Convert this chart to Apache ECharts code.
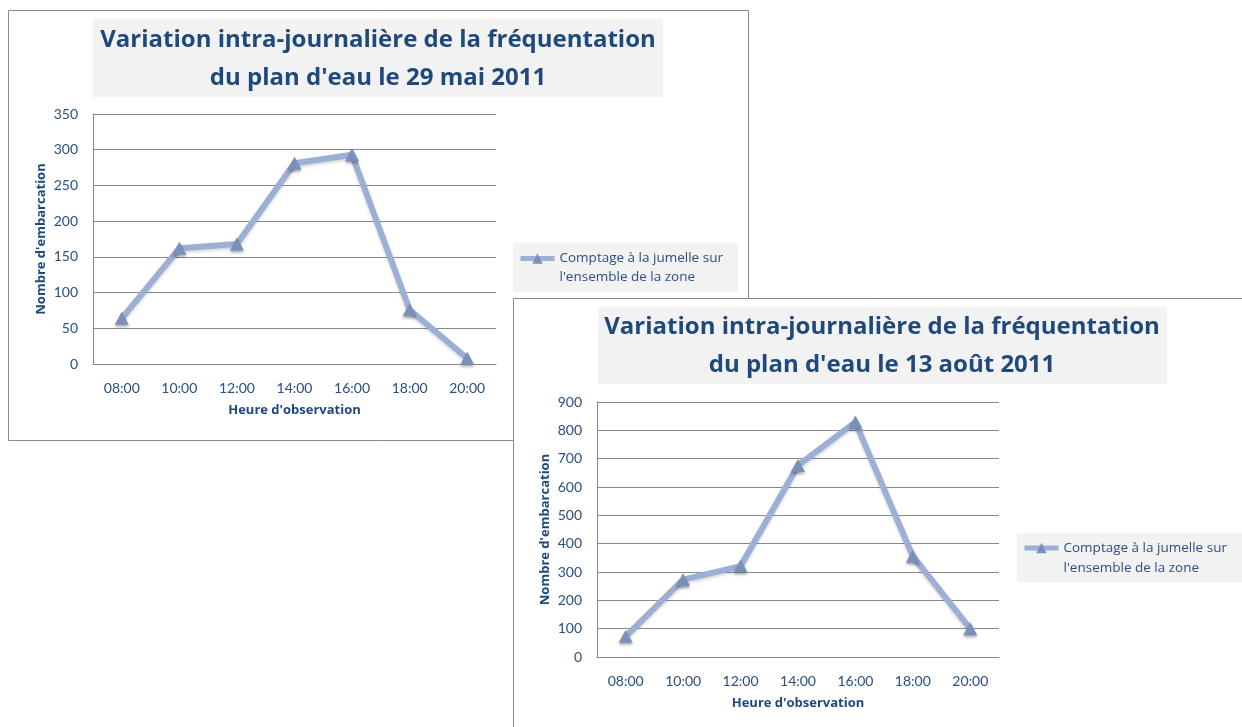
<!DOCTYPE html>
<html lang="fr">
<head>
<meta charset="utf-8">
<title>Variation intra-journalière de la fréquentation du plan d'eau</title>
<script src="https://cdn.jsdelivr.net/npm/echarts@6/dist/echarts.min.js"></script>
<style>
  html, body { margin: 0; padding: 0; background: #ffffff; }
  #chart { width: 1242px; height: 727px; }
</style>
</head>
<body>
<div id="chart"></div>
<script>
// Heures d'observation (axe des abscisses, commun aux deux graphiques)
const heures = ['08:00', '10:00', '12:00', '14:00', '16:00', '18:00', '20:00'];

// Nombre d'embarcations comptées à la jumelle
const comptage29Mai = [64, 162, 168, 281, 293, 76, 8];
const comptage13Aout = [73, 273, 321, 676, 829, 356, 100];

const nomSerie = "Comptage à la jumelle sur l'ensemble de la zone";
// ligne vide en tête : le symbole de légende se cale ainsi sur la première ligne du texte
const legendeTexte = "\nComptage à la jumelle sur\nl'ensemble de la zone";

const titre29Mai = "Variation intra-journalière de la fréquentation\ndu plan d'eau le 29 mai 2011";
const titre13Aout = "Variation intra-journalière de la fréquentation\ndu plan d'eau le 13 août 2011";

const nomAxeY = "Nombre d'embarcation";
const nomAxeX = "Heure d'observation";

// Échelles verticales
const echelle29Mai = { min: 0, max: 350, interval: 50 };
const echelle13Aout = { min: 0, max: 900, interval: 100 };

const FONT = '"Open Sans"';
const FONT_CHIFFRES = 'Lato';
const BLEU = '#1f497d';
const BLEU_TEXTE = '#2b4f82';
const GRIS = '#8a8a8a';
const FOND = '#f2f2f2';
const LIGNE = '#9cb0d5';
const MARQUEUR = '#7b8fbb';

function axeX(gridIndex) {
  return {
    type: 'category',
    gridIndex: gridIndex,
    data: heures,
    boundaryGap: true,
    axisLine: { show: true, lineStyle: { color: GRIS, width: 1 } },
    axisTick: { show: false },
    axisLabel: { color: BLEU_TEXTE, fontFamily: FONT_CHIFFRES, fontSize: 14, margin: 17 },
    name: nomAxeX,
    nameLocation: 'middle',
    nameGap: 40,
    nameTextStyle: { color: BLEU, fontFamily: FONT, fontSize: 13, fontWeight: 'bold' }
  };
}

function axeY(gridIndex, echelle) {
  return {
    type: 'value',
    gridIndex: gridIndex,
    min: echelle.min,
    max: echelle.max,
    interval: echelle.interval,
    axisLine: { show: true, lineStyle: { color: GRIS, width: 1 } },
    axisTick: { show: false },
    splitLine: { show: true, lineStyle: { color: GRIS, width: 1 } },
    axisLabel: { color: BLEU_TEXTE, fontFamily: FONT_CHIFFRES, fontSize: 14, margin: 15 },
    name: nomAxeY,
    nameLocation: 'middle',
    nameRotate: 90,
    nameGap: 45,
    nameTextStyle: { color: BLEU, fontFamily: FONT, fontSize: 13, fontWeight: 'bold' }
  };
}

function serie(index, valeurs) {
  return {
    type: 'line',
    name: nomSerie,
    xAxisIndex: index,
    yAxisIndex: index,
    data: valeurs,
    symbol: 'triangle',
    symbolSize: [14, 13],
    showAllSymbol: true,
    lineStyle: {
      color: LIGNE, width: 6,
      shadowColor: 'rgba(0,0,0,0.16)', shadowBlur: 3, shadowOffsetY: 2
    },
    itemStyle: {
      color: MARQUEUR, borderWidth: 0,
      shadowColor: 'rgba(0,0,0,0.35)', shadowBlur: 3, shadowOffsetY: 2
    },
    emphasis: { disabled: true },
    animation: false
  };
}

function legende(left, top, lineHeight) {
  return {
    show: true,
    data: [nomSerie],
    orient: 'vertical',
    left: left,
    top: top,
    padding: 0,
    itemWidth: 34,
    itemHeight: 13,
    selectedMode: false,
    lineStyle: { color: LIGNE, width: 5 },
    itemStyle: { color: MARQUEUR },
    formatter: function () { return legendeTexte; },
    textStyle: {
      color: BLEU_TEXTE, fontFamily: FONT, fontSize: 13.5, lineHeight: lineHeight
    }
  };
}

function titre(texte, centreX, top) {
  return {
    text: texte,
    left: centreX,
    top: top,
    textAlign: 'center',
    padding: 0,
    textStyle: {
      color: BLEU, fontFamily: FONT, fontSize: 24, fontWeight: 'bold', lineHeight: 38
    }
  };
}

const chart = echarts.init(document.getElementById('chart'), null, { renderer: 'canvas' });

chart.setOption({
  backgroundColor: '#ffffff',
  animation: false,
  title: [
    titre(titre29Mai, 378, 21),
    titre(titre13Aout, 882, 308)
  ],
  legend: [
    legende(518, 230, 19),
    legende(1022, 518, 20)
  ],
  grid: [
    { left: 93, top: 114, width: 403, height: 250 },
    { left: 597, top: 402, width: 402, height: 255 }
  ],
  xAxis: [axeX(0), axeX(1)],
  yAxis: [axeY(0, echelle29Mai), axeY(1, echelle13Aout)],
  series: [serie(0, comptage29Mai), serie(1, comptage13Aout)],
  graphic: [
    // Cadre du graphique du 29 mai
    { type: 'rect', z: -20, silent: true,
      shape: { x: 8.5, y: 10.5, width: 740, height: 430 },
      style: { fill: '#ffffff', stroke: GRIS, lineWidth: 1 } },
    { type: 'rect', z: -19, silent: true,
      shape: { x: 93, y: 19, width: 570, height: 78 },
      style: { fill: FOND } },
    { type: 'rect', z: -19, silent: true,
      shape: { x: 513, y: 243, width: 225, height: 49 },
      style: { fill: FOND } },
    // Cadre du graphique du 13 août, posé par-dessus le premier
    { type: 'rect', z: -10, silent: true,
      shape: { x: 513.5, y: 298.5, width: 800, height: 500 },
      style: { fill: '#ffffff', stroke: GRIS, lineWidth: 1 } },
    { type: 'rect', z: -9, silent: true,
      shape: { x: 598, y: 307, width: 569, height: 77 },
      style: { fill: FOND } },
    { type: 'rect', z: -9, silent: true,
      shape: { x: 1017, y: 533, width: 240, height: 49 },
      style: { fill: FOND } }
  ]
});
</script>
</body>
</html>
